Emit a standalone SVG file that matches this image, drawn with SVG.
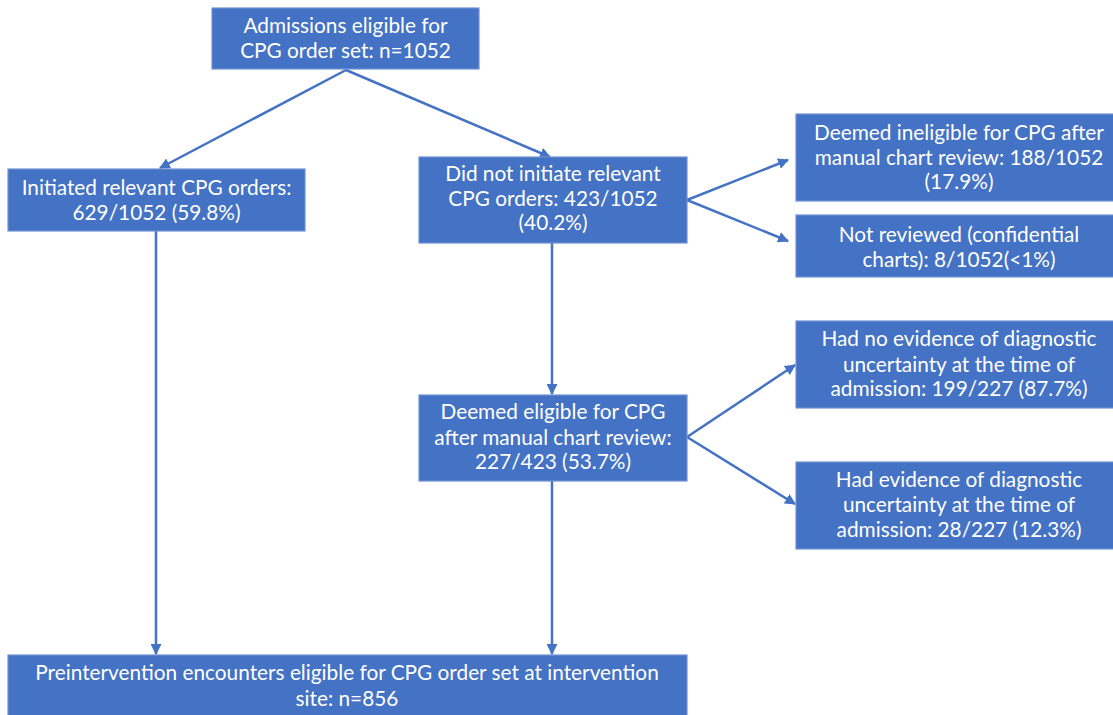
<svg xmlns="http://www.w3.org/2000/svg" width="1113" height="715" viewBox="0 0 1113 715">
<style>
.box{fill:#4472C4;stroke:#7193D2;stroke-width:1.2}
.t{font-family:Lato,"Noto Sans","Liberation Sans",sans-serif;font-size:20.8px;fill:#ffffff;text-anchor:middle}
.c{stroke:#4472C4;stroke-width:2.5;fill:none;marker-end:url(#ah)}
</style>
<defs>
<marker id="ah" viewBox="0 0 10 10" refX="9" refY="5" markerWidth="4.4" markerHeight="4.4" orient="auto" markerUnits="strokeWidth">
<path d="M0,0 L10,5 L0,10 z" fill="#4472C4"/>
</marker>
</defs>
<rect width="1113" height="715" fill="#ffffff"/>
<g id="connectors">
<path class="c" d="M346,70 L160,168"/>
<path class="c" d="M346,70 L550,157"/>
<path class="c" d="M156,231 L156,654"/>
<path class="c" d="M552,243 L552,394"/>
<path class="c" d="M552,481 L552,654"/>
<path class="c" d="M687,200 L788,160"/>
<path class="c" d="M687,200 L788,241"/>
<path class="c" d="M687,437 L795,365"/>
<path class="c" d="M687,437 L795,504"/>
</g>
<g id="n-admissions">
<rect class="box" x="212" y="8" width="267" height="61"/>
<text class="t" x="345.5" y="33">Admissions eligible for</text>
<text class="t" x="345.5" y="58">CPG order set: n=1052</text>
</g>
<g id="n-initiated">
<rect class="box" x="8" y="169" width="297" height="62"/>
<text class="t" x="156.5" y="195">Initiated relevant CPG orders:</text>
<text class="t" x="156.5" y="220">629/1052 (59.8%)</text>
</g>
<g id="n-not-initiated">
<rect class="box" x="419" y="157" width="268" height="86"/>
<text class="t" x="553" y="181">Did not initiate relevant</text>
<text class="t" x="553" y="206">CPG orders: 423/1052</text>
<text class="t" x="553" y="230">(40.2%)</text>
</g>
<g id="n-ineligible">
<rect class="box" x="796" y="114" width="326" height="87"/>
<text class="t" x="959" y="140">Deemed ineligible for CPG after</text>
<text class="t" x="959" y="165">manual chart review: 188/1052</text>
<text class="t" x="959" y="189">(17.9%)</text>
</g>
<g id="n-not-reviewed">
<rect class="box" x="796" y="215" width="326" height="62"/>
<text class="t" x="959" y="242">Not reviewed (confidential</text>
<text class="t" x="959" y="267">charts): 8/1052(&lt;1%)</text>
</g>
<g id="n-eligible">
<rect class="box" x="419" y="395" width="268" height="86"/>
<text class="t" x="553" y="419">Deemed eligible for CPG</text>
<text class="t" x="553" y="445">after manual chart review:</text>
<text class="t" x="553" y="469">227/423 (53.7%)</text>
</g>
<g id="n-no-evidence">
<rect class="box" x="796" y="321" width="326" height="87"/>
<text class="t" x="959" y="346">Had no evidence of diagnostic</text>
<text class="t" x="959" y="372">uncertainty at the time of</text>
<text class="t" x="959" y="396">admission: 199/227 (87.7%)</text>
</g>
<g id="n-evidence">
<rect class="box" x="796" y="462" width="326" height="87"/>
<text class="t" x="959" y="487">Had evidence of diagnostic</text>
<text class="t" x="959" y="512">uncertainty at the time of</text>
<text class="t" x="959" y="537">admission: 28/227 (12.3%)</text>
</g>
<g id="n-preintervention">
<rect class="box" x="8" y="655" width="679" height="70"/>
<text class="t" x="347" y="680">Preintervention encounters eligible for CPG order set at intervention</text>
<text class="t" x="347" y="706">site: n=856</text>
</g>
</svg>
